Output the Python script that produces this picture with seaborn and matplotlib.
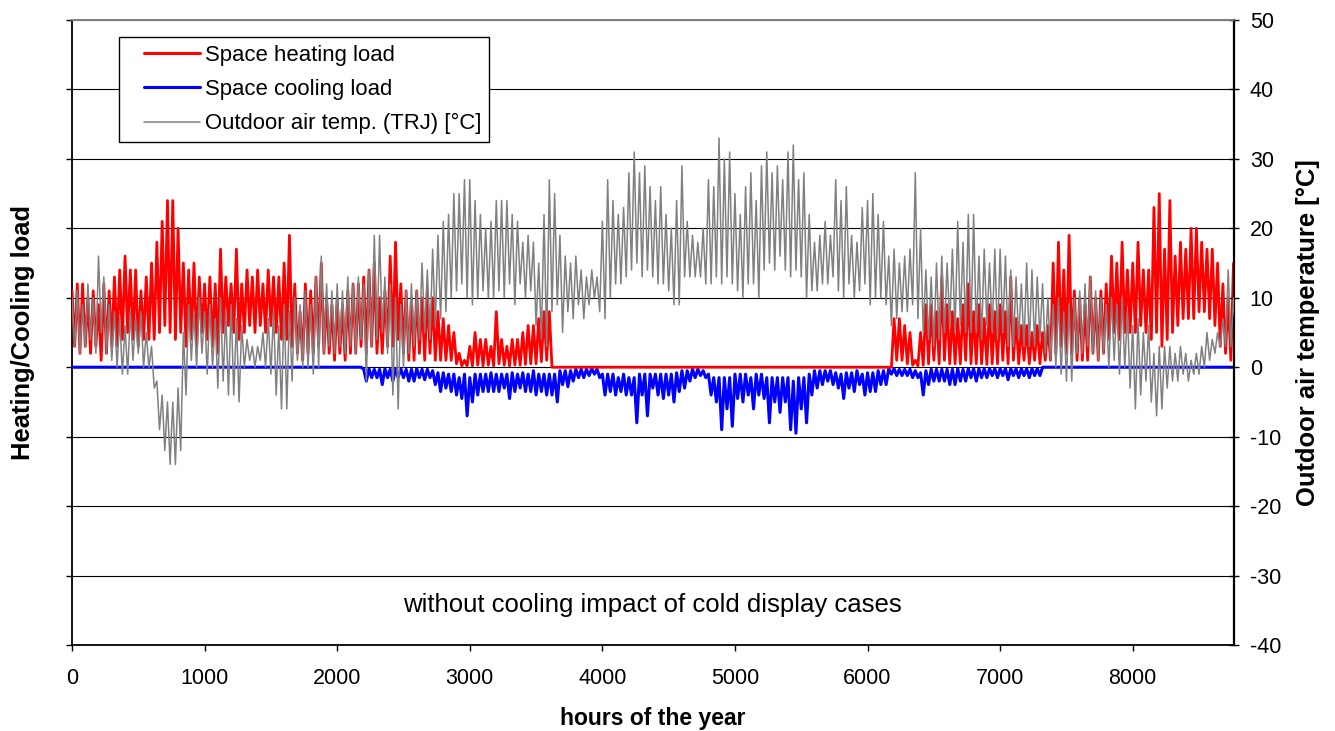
import matplotlib
matplotlib.use("Agg")
import matplotlib.pyplot as plt
import pandas as pd
import seaborn as sns
from matplotlib.lines import Line2D
from matplotlib.legend_handler import HandlerLine2D

# ------------- data: upper / lower value in each 40 h window -------------
hours = list(range(0, 8761, 40))   # start of each 40-hour window

temp_high = [
    10, 11, 9, 12, 10, 16, 13, 9, 8, 7,
    6, 8, 7, 8, 5, 3, -2, -4, -5, -5,
    -3, 5, 9, 8, 10, 8, 9, 7, 10, 8,
    9, 7, 6, 4, 3, 3, 5, 7, 8, 6,
    9, 8, 10, 9, 11, 9, 13, 16, 12, 11,
    12, 11, 13, 12, 13, 12, 14, 19, 19, 13,
    12, 10, 9, 11, 12, 11, 15, 14, 17, 19,
    21, 22, 25, 25, 27, 27, 24, 22, 20, 21,
    24, 24, 24, 22, 21, 18, 19, 18, 15, 22,
    27, 25, 19, 16, 15, 16, 14, 13, 14, 13,
    21, 27, 24, 22, 23, 28, 31, 28, 29, 26,
    24, 26, 22, 20, 24, 29, 21, 19, 18, 20,
    27, 26, 33, 30, 31, 25, 22, 26, 28, 24,
    29, 31, 28, 29, 27, 31, 32, 27, 28, 22,
    18, 19, 21, 19, 27, 24, 26, 19, 18, 23,
    24, 25, 22, 21, 16, 17, 15, 16, 17, 28,
    20, 14, 13, 15, 16, 15, 17, 21, 18, 22,
    22, 16, 17, 15, 17, 17, 16, 14, 13, 12,
    15, 14, 13, 12, 10, 9, 10, 8, 9, 10,
    11, 12, 13, 11, 10, 9, 10, 9, 10, 8,
    6, 7, 5, 6, 2, 3, 3, 3, 2, 3,
    2, 1, 2, 3, 5, 4, 5, 7, 14, 10,
]
temp_low = [
    3, 2, 3, 4, 2, 5, 2, 1, 0, -1,
    -1, 1, 2, 0, 0, -3, -9, -12, -14, -14,
    -12, -4, 1, 0, 2, -1, 0, -3, -2, -4,
    -4, -5, 0, 1, 0, 1, 0, -1, -4, -6,
    -6, -2, 1, 0, 0, -1, 0, 2, 3, 2,
    3, 2, 3, 2, 4, -2, 3, 4, 5, 2,
    -4, -6, 0, 2, 3, 4, 5, 4, 6, 7,
    8, 10, 11, 12, 10, 9, 10, 11, 10, 10,
    11, 10, 12, 9, 12, 10, 11, 6, 4, 3,
    8, 9, 5, 8, 7, 9, 7, 9, 10, 8,
    7, 10, 12, 12, 13, 14, 15, 13, 14, 13,
    12, 12, 11, 9, 9, 13, 13, 13, 13, 12,
    12, 13, 12, 13, 12, 11, 10, 12, 12, 10,
    14, 15, 14, 16, 14, 13, 14, 13, 10, 11,
    11, 12, 12, 13, 11, 10, 12, 10, 11, 12,
    9, 10, 10, 9, 6, 7, 8, 8, 9, 7,
    5, 4, 3, 4, 5, 6, 5, 6, 5, 5,
    5, 4, 6, 5, 4, 5, 3, 3, 4, 3,
    3, 3, 4, 2, 1, 0, -1, -2, -2, 2,
    2, 3, 2, 1, 2, 0, 1, -1, 0, -3,
    -6, -4, -2, -5, -7, -6, -3, -2, -2, -1,
    -2, -1, -1, 0, 1, 2, 3, 3, 3, 4,
]

heat_high = [
    11, 12, 12, 10, 11, 9, 12, 11, 13, 14,
    16, 14, 14, 11, 13, 15, 18, 21, 24, 24,
    20, 15, 14, 15, 13, 12, 13, 12, 17, 13,
    12, 17, 12, 14, 13, 14, 12, 14, 13, 13,
    15, 19, 12, 8, 12, 11, 13, 15, 10, 9,
    10, 9, 11, 12, 12, 13, 14, 15, 10, 11,
    16, 18, 12, 11, 10, 11, 10, 11, 10, 8,
    7, 6, 5, 2, 1, 3, 5, 4, 4, 3,
    8, 4, 3, 4, 4, 5, 6, 6, 7, 8,
    8, 0, 0, 0, 0, 0, 0, 0, 0, 0,
    0, 0, 0, 0, 0, 0, 0, 0, 0, 0,
    0, 0, 0, 0, 0, 0, 0, 0, 0, 0,
    0, 0, 0, 0, 0, 0, 0, 0, 0, 0,
    0, 0, 0, 0, 0, 0, 0, 0, 0, 0,
    0, 0, 0, 0, 0, 0, 0, 0, 0, 0,
    0, 0, 0, 0, 0, 7, 7, 6, 5, 1,
    5, 9, 9, 8, 13, 9, 8, 7, 9, 12,
    8, 9, 7, 9, 8, 9, 8, 13, 7, 6,
    6, 5, 6, 5, 6, 15, 18, 14, 19, 11,
    10, 9, 13, 10, 11, 12, 16, 15, 18, 14,
    15, 18, 14, 14, 23, 25, 17, 24, 16, 18,
    17, 20, 20, 18, 17, 17, 15, 12, 10, 15,
]
heat_low = [
    3, 2, 3, 2, 3, 1, 2, 3, 3, 4,
    5, 4, 3, 4, 4, 4, 5, 6, 5, 4,
    5, 3, 4, 3, 5, 4, 3, 2, 5, 6,
    5, 4, 5, 6, 5, 6, 5, 6, 5, 4,
    4, 3, 2, 1, 2, 2, 3, 2, 2, 1,
    2, 1, 2, 2, 3, 2, 3, 2, 2, 3,
    3, 4, 2, 1, 1, 2, 1, 2, 1, 1,
    1, 1, 0.5, 0.2, 0.2, 0.2, 0.3, 0.2, 0.3, 0.2,
    0.5, 0.3, 0.2, 0.3, 0.3, 0.4, 0.5, 0.5, 0.8, 1,
    0, 0, 0, 0, 0, 0, 0, 0, 0, 0,
    0, 0, 0, 0, 0, 0, 0, 0, 0, 0,
    0, 0, 0, 0, 0, 0, 0, 0, 0, 0,
    0, 0, 0, 0, 0, 0, 0, 0, 0, 0,
    0, 0, 0, 0, 0, 0, 0, 0, 0, 0,
    0, 0, 0, 0, 0, 0, 0, 0, 0, 0,
    0, 0, 0, 0, 0, 1, 1, 0.5, 0.3, 0.2,
    0.3, 0.5, 1, 0.5, 1, 0.5, 0.5, 0.5, 1, 0.5,
    0.5, 0.5, 0.4, 0.5, 0.5, 1, 0.5, 1, 0.5, 1,
    0.5, 1, 0.5, 1, 1, 2, 3, 2, 2, 1,
    1, 1, 2, 1, 2, 4, 5, 4, 5, 5,
    5, 6, 5, 4, 5, 3, 4, 5, 6, 7,
    7, 7, 8, 8, 7, 6, 3, 2, 1, 5,
]

cool_high = [
    0, 0, 0, 0, 0, 0, 0, 0, 0, 0,
    0, 0, 0, 0, 0, 0, 0, 0, 0, 0,
    0, 0, 0, 0, 0, 0, 0, 0, 0, 0,
    0, 0, 0, 0, 0, 0, 0, 0, 0, 0,
    0, 0, 0, 0, 0, 0, 0, 0, 0, 0,
    0, 0, 0, 0, 0, -0.3, -0.2, -0.3, -0.3, -0.2,
    -0.3, -0.2, -0.2, -0.3, -0.3, -0.2, -0.3, -0.3, -0.5, -0.8,
    -0.8, -1, -1, -1.5, -1, -1.5, -1, -1, -1, -0.8,
    -1, -1, -1, -0.8, -1, -0.8, -1, -0.5, -1, -1,
    -1, -1, -0.5, -0.5, -0.5, -0.3, -0.3, -0.3, -0.2, -0.3,
    -1, -1, -1, -1.5, -1, -1.5, -1.5, -1, -1, -1,
    -1, -1, -1, -1, -0.8, -0.5, -0.5, -0.3, -0.3, -0.5,
    -1, -1.5, -1.5, -1.5, -1.5, -1, -1, -1, -1.5, -1,
    -1, -1.5, -1.5, -1.5, -1.5, -1.5, -2, -1.5, -1.5, -1,
    -0.5, -0.5, -0.5, -0.5, -0.8, -1, -0.8, -0.8, -0.5, -1,
    -0.8, -0.8, -0.5, -0.5, -0.2, -0.2, -0.3, -0.3, -0.3, -0.5,
    -0.8, -0.5, -0.3, -0.3, -0.3, -0.3, -0.3, -0.2, -0.3, -0.2,
    -0.2, -0.2, -0.2, -0.2, -0.2, -0.2, -0.2, -0.2, -0.2, -0.2,
    -0.2, -0.2, -0.2, 0, 0, 0, 0, 0, 0, 0,
    0, 0, 0, 0, 0, 0, 0, 0, 0, 0,
    0, 0, 0, 0, 0, 0, 0, 0, 0, 0,
    0, 0, 0, 0, 0, 0, 0, 0, 0, 0,
]
cool_low = [
    0, 0, 0, 0, 0, 0, 0, 0, 0, 0,
    0, 0, 0, 0, 0, 0, 0, 0, 0, 0,
    0, 0, 0, 0, 0, 0, 0, 0, 0, 0,
    0, 0, 0, 0, 0, 0, 0, 0, 0, 0,
    0, 0, 0, 0, 0, 0, 0, 0, 0, 0,
    0, 0, 0, 0, 0, -2, -1.5, -1.5, -2.5, -1.5,
    -2, -1.5, -1.5, -2, -2, -1.5, -1.8, -1.5, -2.5, -3.5,
    -3, -3.5, -4, -4.5, -7, -5, -4, -3.5, -3.5, -3.5,
    -3.5, -3, -4.5, -3.5, -3, -3.5, -3.5, -4, -3.5, -4,
    -4, -5, -2.5, -2.8, -2, -1.5, -1.5, -1.2, -1, -1.5,
    -4, -3.5, -4, -3.5, -4, -4, -8, -4, -7, -3,
    -4, -4.5, -4, -5, -3.5, -3, -2, -1.5, -1.2, -1.5,
    -4, -5, -9, -6, -8.5, -4.5, -5, -4, -6, -4,
    -4.5, -8, -5, -6.5, -5, -9, -9.5, -6, -8, -4,
    -3, -2.5, -2, -2.5, -3, -4.5, -3, -3.5, -2.5, -4,
    -3.5, -3.5, -2.5, -2.5, -1, -1.2, -1.2, -1.2, -1.5, -1.5,
    -4, -2.5, -2, -2, -2, -2.5, -2.5, -2, -2, -1.5,
    -2, -1.5, -1.5, -1.2, -1.5, -1.2, -1.8, -1.2, -1.5, -1.2,
    -1.5, -1.2, -1.2, 0, 0, 0, 0, 0, 0, 0,
    0, 0, 0, 0, 0, 0, 0, 0, 0, 0,
    0, 0, 0, 0, 0, 0, 0, 0, 0, 0,
    0, 0, 0, 0, 0, 0, 0, 0, 0, 0,
]

x_ticks = [0, 1000, 2000, 3000, 4000, 5000, 6000, 7000, 8000]
y_ticks = [-40, -30, -20, -10, 0, 10, 20, 30, 40, 50]
series_labels = ["Space heating load", "Space cooling load",
                 "Outdoor air temp. (TRJ) [°C]"]


def zigzag(high, low):
    """Hourly trace: upper value at the window start, lower value half a window later."""
    xs, ys = [], []
    for h, hi, lo in zip(hours, high, low):
        xs += [h, h + 20]
        ys += [hi, lo]
    return pd.DataFrame({"hour": xs, "value": ys})


# ---------------- style ----------------
sns.set_style("white")
plt.rcParams["font.family"] = ["Liberation Sans", "DejaVu Sans"]
plt.rcParams.update({"text.color": "black", "axes.labelcolor": "black",
                     "xtick.color": "black", "ytick.color": "black"})

RED, BLUE, GREY = "#ff0000", "#0000ff", "#808080"
FS = 15.5

fig = plt.figure(figsize=(13.35, 7.31), dpi=100)
ax = fig.add_axes([72 / 1335, 1 - 645 / 731, (1233.5 - 72) / 1335, 625 / 731])
ax2 = ax.twinx()

sns.lineplot(data=zigzag(cool_high, cool_low), x="hour", y="value", ax=ax,
             color=BLUE, linewidth=2.2, zorder=3, sort=False)
sns.lineplot(data=zigzag(heat_high, heat_low), x="hour", y="value", ax=ax,
             color=RED, linewidth=2.0, zorder=4, sort=False)
sns.lineplot(data=zigzag(temp_high, temp_low), x="hour", y="value", ax=ax2,
             color=GREY, linewidth=1.1, zorder=5, sort=False)

for a in (ax, ax2):
    a.set_ylim(-40, 50)
    a.set_yticks(y_ticks)
    a.set_xlim(0, 8760)

ax.set_xticks(x_ticks)
ax.set_xticklabels([str(t) for t in x_ticks], fontsize=FS)
ax.grid(True, axis="y", color="black", linewidth=0.8)
ax.grid(False, axis="x")

ax.tick_params(axis="y", left=True, labelleft=False, length=4, width=1,
               direction="out", color="black")
ax.tick_params(axis="x", bottom=True, length=4.5, width=1, direction="out",
               color="black", pad=12)
ax2.tick_params(axis="y", right=True, labelright=True, length=7.5, width=1,
                direction="inout", color="black", labelsize=FS, pad=8)
ax2.set_yticklabels([str(t) for t in y_ticks])

for a in (ax, ax2):
    a.spines["top"].set_color(GREY)
    a.spines["top"].set_linewidth(1.2)
ax.spines["left"].set_color("black")
ax.spines["left"].set_linewidth(1.3)
ax.spines["bottom"].set_color("black")
ax.spines["bottom"].set_linewidth(1.3)
ax.spines["right"].set_visible(False)
ax2.spines["left"].set_visible(False)
ax2.spines["bottom"].set_visible(False)
ax2.spines["right"].set_color("black")
ax2.spines["right"].set_linewidth(1.6)

# axis labels
ax.set_xlabel("hours of the year", fontsize=16.5, fontweight="bold")
ax.xaxis.set_label_coords(0.5, (645 - 718) / 625)
ax.xaxis.label.set_va("center")

ax.set_ylabel("Heating/Cooling load", fontsize=18.4, fontweight="bold")
ax.yaxis.set_label_coords((23 - 72) / 1161.5, 0.5)
ax.yaxis.label.set_va("center")
ax.yaxis.label.set_rotation_mode("default")

ax2.set_ylabel("Outdoor air temperature [°C]", fontsize=18.4, fontweight="bold",
               rotation=90)
ax2.yaxis.set_label_coords((1308 - 72) / 1161.5, 0.5)
ax2.yaxis.label.set_va("center")
ax2.yaxis.label.set_ha("center")
ax2.yaxis.label.set_rotation_mode("default")

# annotation
ax.text(0.5, 0.064, "without cooling impact of cold display cases",
        transform=ax.transAxes, ha="center", va="center", fontsize=18.5)

# legend
handles = [Line2D([], [], color=RED, linewidth=2.2),
           Line2D([], [], color=BLUE, linewidth=2.2),
           Line2D([], [], color=GREY, linewidth=1.1)]
leg = ax2.legend(handles, series_labels, loc="upper left",
                 bbox_to_anchor=((119 - 72) / 1161.5, (645 - 37) / 625),
                 borderaxespad=0, fontsize=15.9, frameon=True, fancybox=False,
                 edgecolor="black", framealpha=1, borderpad=0.35,
                 handlelength=3.32, handletextpad=0.23, labelspacing=0.6,
                 handler_map={Line2D: HandlerLine2D(xpad=0.78)})
leg.get_frame().set_linewidth(1.0)
leg.set_zorder(10)

fig.savefig("out.png", dpi=100)
